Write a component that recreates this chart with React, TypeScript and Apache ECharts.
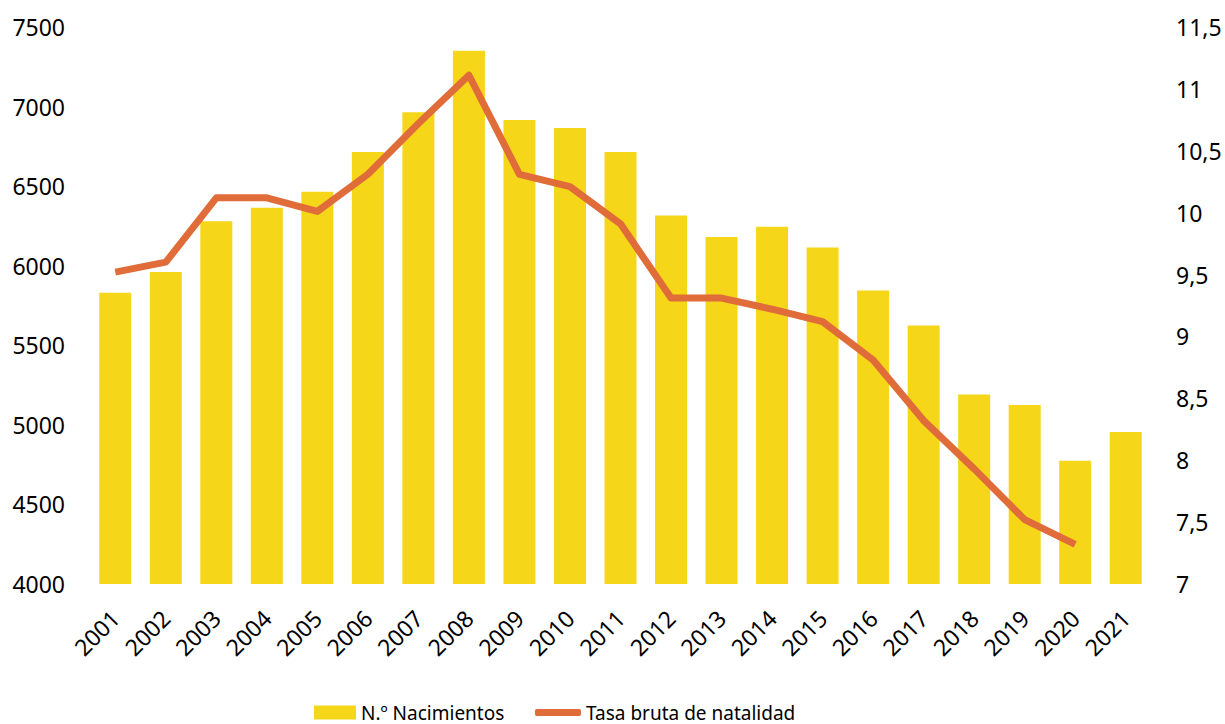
import React, { useEffect, useRef } from "react";
import * as echarts from "echarts";

const years = ["2001","2002","2003","2004","2005","2006","2007","2008","2009","2010","2011","2012","2013","2014","2015","2016","2017","2018","2019","2020","2021"];
const births = [5830, 5960, 6280, 6365, 6465, 6715, 6965, 7350, 6915, 6865, 6715, 6315, 6180, 6245, 6115, 5845, 5625, 5190, 5125, 4775, 4955];
const birthRate: (number | null)[] = [9.52, 9.6, 10.12, 10.12, 10.01, 10.31, 10.72, 11.11, 10.31, 10.21, 9.91, 9.31, 9.31, 9.22, 9.12, 8.81, 8.32, 7.93, 7.52, 7.32, null];

const FONT = "Noto Sans";
const BAR_COLOR = "#F6D619";
const LINE_COLOR = "#E06C3A";

export default function App() {
  const ref = useRef<HTMLDivElement>(null);
  useEffect(() => {
    const chart = echarts.init(ref.current!, null, { renderer: "svg" });
    const legendText = { fontFamily: FONT, fontSize: 19, color: "#000", lineHeight: 14 };
    chart.setOption({
      animation: false,
      backgroundColor: "#ffffff",
      textStyle: { fontFamily: FONT },
      grid: { left: 90, right: 74, top: 27, bottom: 140, containLabel: false },
      legend: [
        {
          left: 314,
          top: 703,
          padding: 0,
          itemWidth: 42,
          itemHeight: 14,
          itemGap: 0,
          itemTextGap: 5,
          textStyle: legendText,
          data: [{ name: "N.º Nacimientos", icon: "rect" }],
        },
        {
          left: 535,
          top: 703,
          padding: 0,
          itemWidth: 46,
          itemHeight: 7,
          itemGap: 0,
          itemTextGap: 2,
          textStyle: legendText,
          data: [{ name: "Tasa bruta de natalidad", icon: "roundRect" }],
        },
      ],
      xAxis: {
        type: "category",
        data: years,
        axisLine: { show: false },
        axisTick: { show: false },
        axisLabel: { rotate: 45, fontSize: 23, color: "#000", margin: 30, fontFamily: FONT },
      },
      yAxis: [
        {
          type: "value",
          min: 4000,
          max: 7500,
          interval: 500,
          splitLine: { show: false },
          axisLine: { show: false },
          axisTick: { show: false },
          axisLabel: {
            fontSize: 23,
            color: "#000",
            margin: 25,
            fontFamily: FONT,
            formatter: (v: number) => String(v),
          },
        },
        {
          type: "value",
          min: 7,
          max: 11.5,
          interval: 0.5,
          splitLine: { show: false },
          axisLine: { show: false },
          axisTick: { show: false },
          axisLabel: {
            fontSize: 23,
            color: "#000",
            margin: 25,
            fontFamily: FONT,
            formatter: (v: number) => String(v).replace(".", ","),
          },
        },
      ],
      series: [
        {
          name: "N.º Nacimientos",
          type: "bar",
          data: births,
          barWidth: 32,
          itemStyle: { color: BAR_COLOR },
        },
        {
          name: "Tasa bruta de natalidad",
          type: "line",
          yAxisIndex: 1,
          data: birthRate,
          symbol: "none",
          showSymbol: false,
          lineStyle: { color: LINE_COLOR, width: 7, cap: "butt", join: "round" },
          itemStyle: { color: LINE_COLOR },
        },
      ],
    });
    return () => chart.dispose();
  }, []);
  return (
    <div
      ref={ref}
      style={{ position: "fixed", left: 0, top: 0, width: 1225, height: 724 }}
    />
  );
}
